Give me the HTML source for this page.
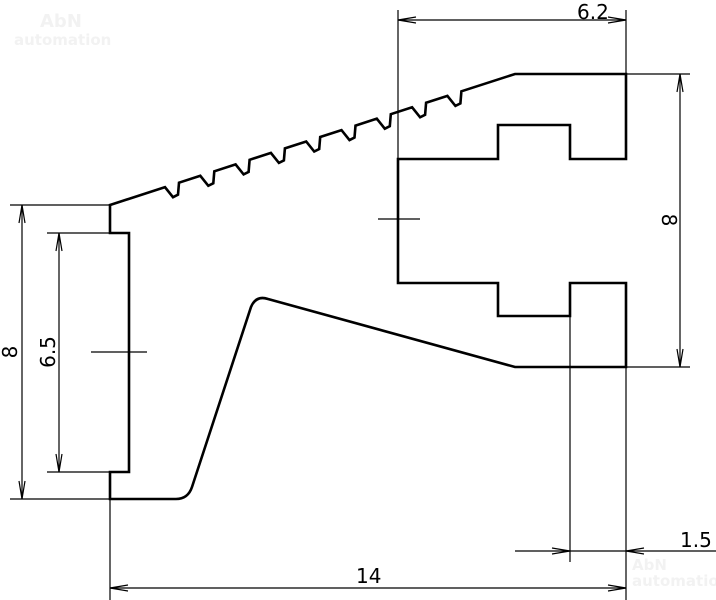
<!DOCTYPE html>
<html><head><meta charset="utf-8"><style>
html,body{margin:0;padding:0;background:#fff;}
svg{display:block;}
text{font-family:"DejaVu Sans","Liberation Sans",sans-serif;font-size:20px;fill:#000;}
</style></head><body>
<svg id="s" width="716" height="600" viewBox="0 0 716 600" xmlns="http://www.w3.org/2000/svg">
<text x="40" y="27" style="font-size:18px;font-weight:bold;fill:#f2f2f2">AbN</text>
<text x="14" y="45" style="font-size:15px;font-weight:bold;fill:#f2f2f2">automation</text>
<text x="632" y="570" style="font-size:15px;font-weight:bold;fill:#f2f2f2">AbN</text>
<text x="632" y="586" style="font-size:15px;font-weight:bold;fill:#f2f2f2">automation</text>
<path id="outline" fill="none" stroke="#000" stroke-width="2.6" stroke-linejoin="miter" d=""/>
<g stroke="#000" stroke-width="1.2" fill="none">
<line x1="398" y1="10" x2="398" y2="159"/><line x1="626" y1="10" x2="626" y2="74"/>
<line x1="398" y1="20" x2="626" y2="20"/>
<polyline points="416,17 398,20 416,23"/><polyline points="608,17 626,20 608,23"/>
<line x1="626" y1="74" x2="690" y2="74"/><line x1="626" y1="367" x2="690" y2="367"/>
<line x1="680" y1="74" x2="680" y2="367"/>
<polyline points="677,92 680,74 683,92"/><polyline points="677,349 680,367 683,349"/>
<line x1="378" y1="219" x2="420" y2="219"/>
<line x1="10" y1="205" x2="110" y2="205"/><line x1="10" y1="499" x2="110" y2="499"/>
<line x1="22" y1="205" x2="22" y2="499"/>
<polyline points="19,223 22,205 25,223"/><polyline points="19,481 22,499 25,481"/>
<line x1="47" y1="233" x2="129" y2="233"/><line x1="47" y1="472" x2="129" y2="472"/>
<line x1="59" y1="233" x2="59" y2="472"/>
<polyline points="56,251 59,233 62,251"/><polyline points="56,454 59,472 62,454"/>
<line x1="91" y1="352" x2="147" y2="352"/>
<line x1="110" y1="499" x2="110" y2="600"/><line x1="626" y1="367" x2="626" y2="600"/>
<line x1="110" y1="588" x2="626" y2="588"/>
<polyline points="128,585 110,588 128,591"/><polyline points="608,585 626,588 608,591"/>
<line x1="570" y1="283" x2="570" y2="562"/>
<line x1="515" y1="551" x2="716" y2="551"/>
<polyline points="552,548 570,551 552,554"/><polyline points="644,548 626,551 644,554"/>
</g>
<text x="577" y="19">6.2</text>
<text x="356" y="583">14</text>
<text x="680" y="547">1.5</text>
<text transform="translate(662,220) rotate(90)" text-anchor="middle">8</text>
<text transform="translate(17,352) rotate(-90)" text-anchor="middle">8</text>
<text transform="translate(55,352) rotate(-90)" text-anchor="middle">6.5</text>
</svg>
<script>
(function(){
var f=function(x){return 205-0.3235*(x-110);};
var d="M110,205";
for(var i=0;i<9;i++){
 var x=165+35.3*i;
 d+=" L"+x.toFixed(1)+","+f(x).toFixed(1);
 d+=" L"+(x+8).toFixed(1)+","+(f(x)+10).toFixed(1);
 d+=" L"+(x+13).toFixed(1)+","+(f(x)+7.5).toFixed(1);
 d+=" L"+(x+14).toFixed(1)+","+f(x+14).toFixed(1);
}
d+=" L515,74 L626,74 L626,159 L570,159 L570,125 L498,125 L498,159 L398,159 L398,283 L498,283 L498,316 L570,316 L570,283 L626,283 L626,367 L515,367 L268,299 Q256,295 251,307 L192,487 Q188,499 176,499 L110,499 L110,472 L129,472 L129,233 L110,233 Z";
document.getElementById("outline").setAttribute("d",d);
})();
</script>
</body></html>
